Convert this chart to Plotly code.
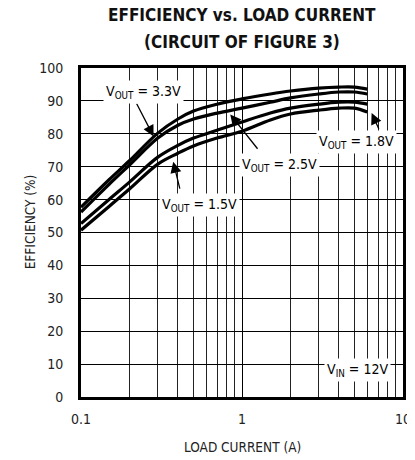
import plotly.graph_objects as go

# Data
load_current = [0.1, 0.15, 0.2, 0.3, 0.4, 0.5, 0.7, 1.0, 1.5, 2.0, 3.0, 4.0, 5.0, 6.0]
eff_3v3 = [57.7, 66.1, 71.8, 80.2, 84.5, 86.9, 89.0, 90.6, 92.1, 93.0, 93.9, 94.2, 94.2, 93.6]
eff_2v5 = [56.2, 64.7, 70.5, 78.7, 82.6, 84.5, 86.3, 87.8, 89.6, 90.9, 92.1, 92.7, 92.7, 92.1]
eff_1v8 = [52.7, 60.1, 65.3, 72.9, 76.5, 78.7, 81.1, 83.6, 86.3, 87.8, 89.0, 89.6, 89.6, 89.0]
eff_1v5 = [50.7, 58.0, 63.2, 70.8, 74.1, 76.3, 78.7, 80.8, 84.2, 86.0, 87.2, 87.8, 87.8, 86.6]

y_ticks = [0, 10, 20, 30, 40, 50, 60, 70, 80, 90, 100]
x_ticks = [0.1, 1, 10]
x_tick_labels = ["0.1", "1", "10"]

FONT = "DejaVu Sans Condensed, Liberation Sans Narrow, sans-serif"

fig = go.Figure()
for ys in [eff_3v3, eff_2v5, eff_1v8, eff_1v5]:
    fig.add_trace(go.Scatter(x=load_current, y=ys, mode="lines",
                             line=dict(color="black", width=3.2, shape="spline"),
                             showlegend=False, hoverinfo="skip"))

labels = [
    ("V<sub>OUT</sub> = 3.3V", -0.610, 92.7),
    ("V<sub>OUT</sub> = 1.5V", -0.262, 58.3),
    ("V<sub>OUT</sub> = 2.5V", 0.232, 70.5),
    ("V<sub>OUT</sub> = 1.8V", 0.713, 77.5),
    ("V<sub>IN</sub> = 12V", 0.720, 8.1),
]
arrows = [
    (-0.659, 89.6, -0.549, 79.2),
    (-0.384, 62.9, -0.427, 71.5),
    (0.104, 75.0, -0.073, 85.9),
    (0.854, 81.1, 0.805, 86.3),
]
for (tx, ty, hx, hy) in arrows:
    fig.add_annotation(x=hx, y=hy, ax=tx, ay=ty, xref="x", yref="y", axref="x", ayref="y",
                       text="", showarrow=True, arrowhead=2, arrowsize=1.7, arrowwidth=1.3,
                       arrowcolor="black", standoff=0, startstandoff=0)
for (t, x, y) in labels:
    fig.add_annotation(x=x, y=y, xref="x", yref="y", text=t, showarrow=False,
                       bgcolor="white", borderpad=2,
                       font=dict(family=FONT, size=14, color="black"))

# titles
fig.add_annotation(x=0.5, y=1, xref="paper", yref="paper", yanchor="middle",
                   yshift=53, text="<b>EFFICIENCY vs. LOAD CURRENT</b>", showarrow=False,
                   font=dict(family=FONT, size=17, color="#111"))
fig.add_annotation(x=0.5, y=1, xref="paper", yref="paper", yanchor="middle",
                   yshift=26, text="<b>(CIRCUIT OF FIGURE 3)</b>", showarrow=False,
                   font=dict(family=FONT, size=17, color="#111"))
fig.add_annotation(x=0.5, y=0, xref="paper", yref="paper", yanchor="middle",
                   yshift=-50, text="LOAD CURRENT (A)", showarrow=False,
                   font=dict(family=FONT, size=13.5, color="#222"))
fig.add_annotation(x=0, y=0.531, xref="paper", yref="paper", xanchor="center",
                   xshift=-51, text="EFFICIENCY (%)", textangle=-90, showarrow=False,
                   font=dict(family=FONT, size=13.5, color="#222"))

fig.update_layout(
    width=415, height=460,
    margin=dict(l=73, r=14, t=60, b=71),
    paper_bgcolor="white", plot_bgcolor="white",
    xaxis=dict(type="log", range=[-1, 1], tickvals=x_ticks, ticktext=x_tick_labels,
               showgrid=True, gridcolor="black", gridwidth=1,
               minor=dict(showgrid=True, gridcolor="#222", gridwidth=1, dtick="D1"),
               showline=True, linecolor="black", linewidth=3, mirror=True,
               ticks="", tickfont=dict(family=FONT, size=14, color="#222"),
               ticklabelstandoff=7, zeroline=False),
    yaxis=dict(range=[0, 100], tickvals=y_ticks,
               showgrid=True, gridcolor="black", gridwidth=1,
               showline=True, linecolor="black", linewidth=3, mirror=True,
               ticks="", tickfont=dict(family=FONT, size=14, color="#222"),
               ticklabelstandoff=12, zeroline=False),
)
fig.write_html("out.html")
